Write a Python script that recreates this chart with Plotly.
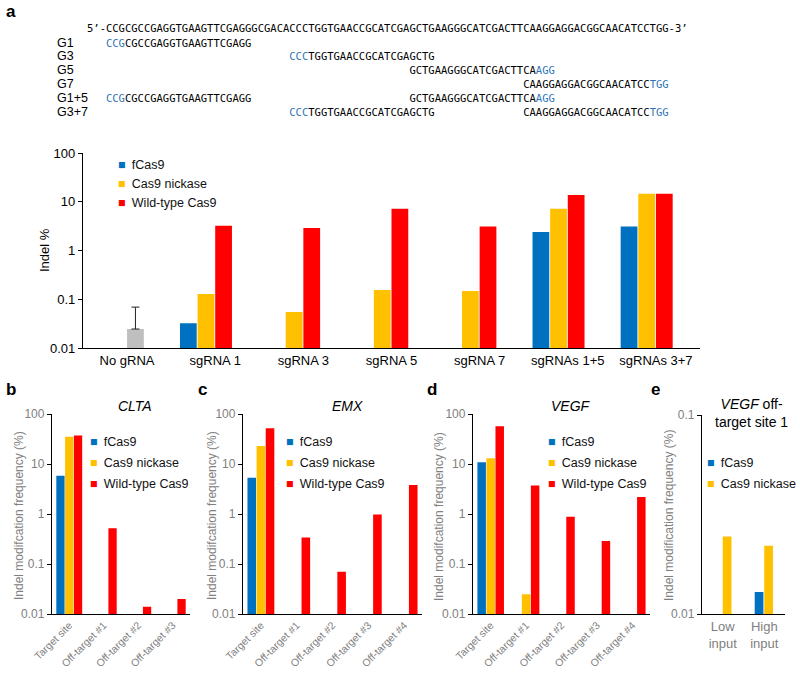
import plotly.graph_objects as go

W, H = 800, 674
def fx(x): return x / W
def fy(y): return 1 - y / H

BLUE = "#0070C0"; YEL = "#FFC000"; RED = "#FF0000"; GRAY = "#BFBFBF"; SEQBLUE = "#2E75B6"
TGRAY = "#808080"
FONT = "Arial, Liberation Sans, sans-serif"

# ---------------- data ----------------
seq_main = "CCGCGCCGAGGTGAAGTTCGAGGGCGACACCCTGGTGAACCGCATCGAGCTGAAGGGCATCGACTTCAAGGAGGACGGCAACATCCTGG"
guide_seqs = {"G1": "CCGCGCCGAGGTGAAGTTCGAGG", "G3": "CCCTGGTGAACCGCATCGAGCTG",
              "G5": "GCTGAAGGGCATCGACTTCAAGG", "G7": "CAAGGAGGACGGCAACATCCTGG"}
pam_side = {"G1": "start", "G3": "start", "G5": "end", "G7": "end"}
guide_rows = [("G1", ["G1"]), ("G3", ["G3"]), ("G5", ["G5"]), ("G7", ["G7"]),
              ("G1+5", ["G1", "G5"]), ("G3+7", ["G3", "G7"])]

cats_a = ["No gRNA", "sgRNA 1", "sgRNA 3", "sgRNA 5", "sgRNA 7", "sgRNAs 1+5", "sgRNAs 3+7"]
fcas9_a = [None, 0.032, None, None, None, 2.4, 3.1]
nick_a = [None, 0.128, 0.055, 0.155, 0.148, 7.2, 14.6]
wt_a = [None, 3.2, 2.9, 7.2, 3.1, 13.7, 14.6]
nogrna_cat = ["No gRNA"]
nogrna_val = [0.0245]
nogrna_err_top = [0.069]

cats_b = ["Target site", "Off-target #1", "Off-target #2", "Off-target #3"]
fcas9_b = [5.8, None, None, None]
nick_b = [35, None, None, None]
wt_b = [37, 0.52, 0.014, 0.020]

cats_c = ["Target site", "Off-target #1", "Off-target #2", "Off-target #3", "Off-target #4"]
fcas9_c = [5.3, None, None, None, None]
nick_c = [23, None, None, None, None]
wt_c = [52, 0.34, 0.07, 0.98, 3.8]

cats_d = ["Target site", "Off-target #1", "Off-target #2", "Off-target #3", "Off-target #4"]
fcas9_d = [10.8, None, None, None, None]
nick_d = [13, 0.0247, None, None, None]
wt_d = [57, 3.7, 0.88, 0.29, 2.2]

cats_e = ["Low input", "High input"]
ticktext_e = ["Low<br>input", "High<br>input"]
fcas9_e = [None, 0.0129]
nick_e = [0.0245, 0.022]

series_names = ["fCas9", "Cas9 nickase", "Wild-type Cas9"]
series_colors = [BLUE, YEL, RED]
log_ticks = [0.01, 0.1, 1, 10, 100]
log_ticktext = ["0.01", "0.1", "1", "10", "100"]

fig = go.Figure()

# ---------------- panel a bars ----------------
for vals, col, off in zip([fcas9_a, nick_a, wt_a], series_colors, [-0.4, -0.2, 0.0]):
    fig.add_trace(go.Bar(x=cats_a, y=vals, marker=dict(color=col, line=dict(width=0)),
                         width=0.19, offset=off, xaxis="x", yaxis="y", showlegend=False))
fig.add_trace(go.Bar(x=nogrna_cat, y=nogrna_val, marker=dict(color=GRAY, line=dict(width=0)),
                     width=0.19, offset=0.0, xaxis="x", yaxis="y", showlegend=False,
                     error_y=dict(type="data", symmetric=False,
                                  array=[t - v for t, v in zip(nogrna_err_top, nogrna_val)],
                                  arrayminus=[0], color="#222222", thickness=1, width=4)))

# panels b-e bars
panels = [("x2", "y2", cats_b, [fcas9_b, nick_b, wt_b]),
          ("x3", "y3", cats_c, [fcas9_c, nick_c, wt_c]),
          ("x4", "y4", cats_d, [fcas9_d, nick_d, wt_d])]
for xa, ya, cats, vals_list in panels:
    for vals, col, off in zip(vals_list, series_colors, [-0.375, -0.12, 0.135]):
        fig.add_trace(go.Bar(x=cats, y=vals, marker=dict(color=col, line=dict(width=0)),
                             width=0.24, offset=off, xaxis=xa, yaxis=ya, showlegend=False))
for vals, col, off in zip([fcas9_e, nick_e], [BLUE, YEL], [-0.23, 0.0]):
    fig.add_trace(go.Bar(x=cats_e, y=vals, marker=dict(color=col, line=dict(width=0)),
                         width=0.21, offset=off, xaxis="x5", yaxis="y5", showlegend=False))

# legend entries: coloured square key drawn as part of the legend label
legend_sets = [("x", "y", "legend", series_names, series_colors),
               ("x2", "y2", "legend2", series_names, series_colors),
               ("x3", "y3", "legend3", series_names, series_colors),
               ("x4", "y4", "legend4", series_names, series_colors),
               ("x5", "y5", "legend5", series_names[:2], series_colors[:2])]
CLEAR = "rgba(0,0,0,0)"
for xa, ya, lg, names, cols in legend_sets:
    for i, (nm, col) in enumerate(zip(names, cols)):
        fig.add_trace(go.Scatter(x=[None], y=[None], mode="markers",
                                 name=f"<span style='color:{col}'>■</span>\u2002{nm}",
                                 marker=dict(symbol="square", size=0, color=CLEAR,
                                             line=dict(width=0, color=CLEAR)),
                                 xaxis=xa, yaxis=ya, legend=lg, legendgroup=f"{lg}_{i}",
                                 showlegend=True))

# ---------------- axes ----------------
def xax(dom, cats, anchor, tickfont, ticktext=None, angle=0):
    d = dict(domain=[fx(dom[0]), fx(dom[1])], anchor=anchor, type="category",
             categoryorder="array", categoryarray=cats, range=[-0.5, len(cats) - 0.5],
             showline=True, linecolor="#000000", linewidth=1.3, ticks="", showgrid=False,
             zeroline=False, tickfont=tickfont, tickangle=angle, fixedrange=True,
             automargin=False)
    if ticktext is not None:
        d.update(tickmode="array", tickvals=cats, ticktext=ticktext)
    return d

def yax(top, bot, anchor, rng, tickfont, tv=log_ticks, tt=log_ticktext):
    return dict(domain=[fy(bot), fy(top)], anchor=anchor, type="log", range=rng,
                tickmode="array", tickvals=tv, ticktext=tt, ticks="outside", ticklen=4,
                tickcolor="#000000", tickwidth=1, showline=True, linecolor="#000000",
                linewidth=1.3, showgrid=False, zeroline=False, tickfont=tickfont,
                fixedrange=True, automargin=False)

fa = dict(family=FONT, size=13, color="#000000")
fbx = dict(family=FONT, size=10.5, color=TGRAY)
fby = dict(family=FONT, size=12, color=TGRAY)
fex = dict(family=FONT, size=13, color=TGRAY)

layout_axes = dict(
    xaxis=xax((83, 700), cats_a, "y", fa),
    yaxis=yax(153, 348, "x", [-2, 2], fa),
    xaxis2=xax((52, 190), cats_b, "y2", fbx, angle=-45),
    yaxis2=yax(414, 614, "x2", [-2, 2], fby),
    xaxis3=xax((243, 422), cats_c, "y3", fbx, angle=-45),
    yaxis3=yax(414, 614, "x3", [-2, 2], fby),
    xaxis4=xax((473, 650), cats_d, "y4", fbx, angle=-45),
    yaxis4=yax(414, 614, "x4", [-2, 2], fby),
    xaxis5=xax((702, 785), cats_e, "y5", fex, ticktext=ticktext_e),
    yaxis5=yax(415, 614, "x5", [-2, -1], fby, tv=[0.01, 0.1], tt=["0.01", "0.1"]),
)

def leg(keyx, top, gap):
    return dict(x=fx(keyx - 40), y=fy(top), xanchor="left", yanchor="top",
                bgcolor="rgba(0,0,0,0)", borderwidth=0, tracegroupgap=gap,
                font=dict(family=FONT, size=12.5, color="#111111"), itemclick=False,
                itemdoubleclick=False)

# ---------------- annotations ----------------
ann = []
def txt(x, y, s, size, color="#000000", xanchor="left", angle=0, family=FONT):
    ann.append(dict(x=fx(x), y=fy(y), xref="paper", yref="paper", text=s, showarrow=False,
                    xanchor=xanchor, yanchor="middle", textangle=angle,
                    font=dict(family=family, size=size, color=color)))

MONO = "DejaVu Sans Mono, Liberation Mono, monospace"
NB = "\u00a0"
txt(85, 28, "5’-" + seq_main + "-3’", 10.5, family=MONO)
row_y = [43, 56, 70, 84, 98, 112]
for (label, members), yy in zip(guide_rows, row_y):
    s = NB * 3
    cur = 0
    for g in members:
        gs = guide_seqs[g]
        pos = seq_main.find(gs)
        s += NB * (pos - cur)
        if pam_side[g] == "start":
            s += f"<span style='color:{SEQBLUE}'>{gs[:3]}</span>{gs[3:]}"
        else:
            s += f"{gs[:-3]}<span style='color:{SEQBLUE}'>{gs[-3:]}</span>"
        cur = pos + len(gs)
    txt(85, yy, s, 10.5, family=MONO)
    txt(55, yy, label, 12.5)

for lab, x, y in [("a", 4, 12), ("b", 4, 389), ("c", 196, 389), ("d", 425, 389), ("e", 649, 389)]:
    txt(x, y, f"<b>{lab}</b>", 17)

txt(135, 406, "<i>CLTA</i>", 14, xanchor="center")
txt(347, 406, "<i>EMX</i>", 14, xanchor="center")
txt(571, 406, "<i>VEGF</i>", 14, xanchor="center")
txt(751, 413, "<i>VEGF</i> off-<br>target site 1", 14, xanchor="center")

txt(44, 250, "Indel %", 13, xanchor="center", angle=-90)
for x, s in [(19, "Indel modifcation frequency (%)"), (212, "Indel modifcation frequency (%)"),
             (439, "Indel modifcation frequency (%)"), (669, "Indel modification frequency (%)")]:
    txt(x, 516, s, 12, color=TGRAY, xanchor="center", angle=-90)

fig.update_layout(
    width=W, height=H, autosize=False,
    margin=dict(l=0, r=0, t=0, b=0, autoexpand=False),
    paper_bgcolor="white", plot_bgcolor="white", barmode="overlay",
    font=dict(family=FONT, size=12, color="#000000"),
    legend=leg(118, 149, 0), legend2=leg(90, 426, 2), legend3=leg(286, 426, 2),
    legend4=leg(548, 426, 2), legend5=leg(707, 447, 2),
    annotations=ann, **layout_axes)

fig.write_html("out.html", config={"displayModeBar": False},
               post_script="document.body.style.margin='0';document.body.style.overflow='hidden';")
